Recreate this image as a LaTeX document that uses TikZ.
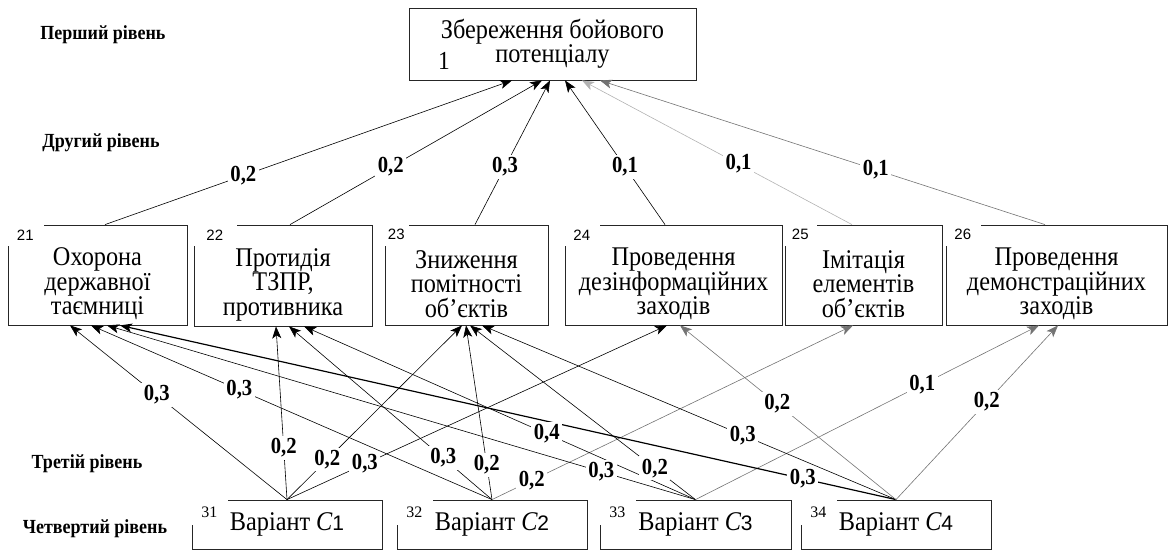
\documentclass[tikz,border=0pt]{standalone}
\usepackage{fontspec}
\setmainfont{Liberation Serif}
\setsansfont{Liberation Sans}
\newfontfamily\boxfont[FakeStretch=0.9]{Liberation Serif}
\newfontfamily\lblfont[FakeStretch=0.9]{Liberation Serif}
\usepackage{tikz}
\usetikzlibrary{arrows.meta}
\newcommand{\optC}[1]{{\itshape C}{\sffamily\fontsize{21}{21}\selectfont #1}}
\newcommand{\up}{\rule{0pt}{36pt}}
\tikzset{crit/.style={draw=black!85, line width=0.8pt, inner sep=0pt, align=center,
    font=\boxfont\fontsize{27}{24.5}\selectfont}}
\tikzset{tall/.style={crit, minimum height=100pt}}
\tikzset{idx/.style={fill=white, inner sep=0pt, minimum width=36pt, minimum height=22pt,
    anchor=north west, font=\sffamily\fontsize{15}{15}\selectfont}}
\tikzset{wt/.style={fill=white, inner sep=2.5pt, font=\lblfont\bfseries\fontsize{23}{23}\selectfont}}
\tikzset{lvl/.style={font=\lblfont\bfseries\fontsize{20}{20}\selectfont}}
\tikzset{edge/.style={->, line width=0.6pt}}
\tikzset{soft/.style={edge, draw=black!55}}
\tikzset{faint/.style={edge, draw=black!30}}
\tikzset{heavy/.style={edge, line width=1.2pt}}

\begin{document}
\begin{tikzpicture}[x=1pt, y=-1pt, >={Stealth[length=12pt,width=9pt,inset=3pt]}]
\useasboundingbox (0,0) rectangle (1169,551);
\node[lvl] (lvl1) at (103,35) {Перший рівень};
\node[lvl] (lvl2) at (101,143) {Другий рівень};
\node[lvl] (lvl3) at (87,464) {Третій рівень};
\node[lvl] (lvl4) at (95,529) {Четвертий рівень};

\node[crit, minimum width=287pt, minimum height=72pt] (b1) at (552.5,44) {Збереження бойового\\потенціалу};
\node[inner sep=0pt, font=\boxfont\fontsize{26}{26}\selectfont] (n1) at (444,61) {1};

\node[tall, minimum width=179pt] (b21) at (97.5,275) {\up Охорона\\державної\\таємниці};
\node[tall, minimum width=178pt, minimum height=101pt] (b22) at (283,275.5) {\up Протидія\\ТЗПР,\\противника};
\node[tall, minimum width=163pt] (b23) at (466.5,275) {\up Зниження\\помітності\\об’єктів};
\node[tall, minimum width=217pt] (b24) at (673.5,275) {\up Проведення\\дезінформаційних\\заходів};
\node[tall, minimum width=157pt] (b25) at (863.5,275) {\up Імітація\\елементів\\об’єктів};
\node[tall, minimum width=221pt] (b26) at (1056.5,275) {\up Проведення\\демонстраційних\\заходів};
\foreach \b/\pw in {21/37,22/44,23/25,24/36,25/33,26/36}
  \node[idx, minimum width=\pw pt] (n\b) at ([shift={(-1,-1)}]b\b.north west) {\b};

\node[crit, minimum width=190pt, minimum height=49pt] (b31) at (287,524.5) {Варіант \optC{1}};
\node[crit, minimum width=190pt, minimum height=49pt] (b32) at (492,524.5) {Варіант \optC{2}};
\node[crit, minimum width=191pt, minimum height=49pt] (b33) at (695.5,524.5) {Варіант \optC{3}};
\node[crit, minimum width=190pt, minimum height=49pt] (b34) at (896,524.5) {Варіант \optC{4}};
\foreach \b in {31,32,33,34}
  \node[idx, minimum width=37pt, minimum height=26pt, font=\rmfamily\fontsize{16}{16}\selectfont] (n\b) at ([shift={(-1,-1)}]b\b.north west) {\b};

% criteria -> goal
\def\upper{b21/7.5/-40.5/.34/2/edge, b22/7/-10.5/.40/2/edge, b23/8.5/-2.5/.40/3/edge,
  b24/-8.5/12.5/.40/1/edge, b25/-11.5/29.5/.42/1/faint, b26/-11.5/47.5/.38/1/soft}
\foreach \s/\dx/\tx/\p/\w/\st in \upper
  \draw[\st] ([xshift=\dx pt]\s.north) -- ([xshift=\tx pt]b1.south);
\foreach \s/\dx/\tx/\p/\w/\st in \upper
  \path ([xshift=\dx pt]\s.north) -- ([xshift=\tx pt]b1.south) node[wt, pos=\p] (w\s) {0,\w};

% variants -> criteria
\def\lower{b31/b21/-27.5/.60/3/edge, b31/b22/-7/.30/2/edge, b31/b23/-4.5/.23/2/edge,
  b31/b24/-6.5/.205/3/edge, b32/b21/-6.5/.63/3/edge, b32/b22/6/.24/3/edge,
  b32/b23/-0.5/.20/2/edge, b32/b25/-10.5/.11/2/soft, b33/b21/9.5/.16/3/edge,
  b33/b22/21/.38/4/edge, b33/b23/3.5/.18/2/edge, b33/b26/-17.5/.66/1/soft,
  b34/b21/22.5/.12/3/heavy, b34/b23/15.5/.37/3/edge, b34/b24/6.5/.55/2/soft,
  b34/b26/1.5/.56/2/soft}
\foreach \s/\t/\tx/\p/\w/\st in \lower
  \draw[\st] (\s.north) -- ([xshift=\tx pt]\t.south);
\foreach \s/\t/\tx/\p/\w/\st in \lower
  \path (\s.north) -- ([xshift=\tx pt]\t.south) node[wt, pos=\p] (w\s\t) {0,\w};
\end{tikzpicture}
\end{document}
